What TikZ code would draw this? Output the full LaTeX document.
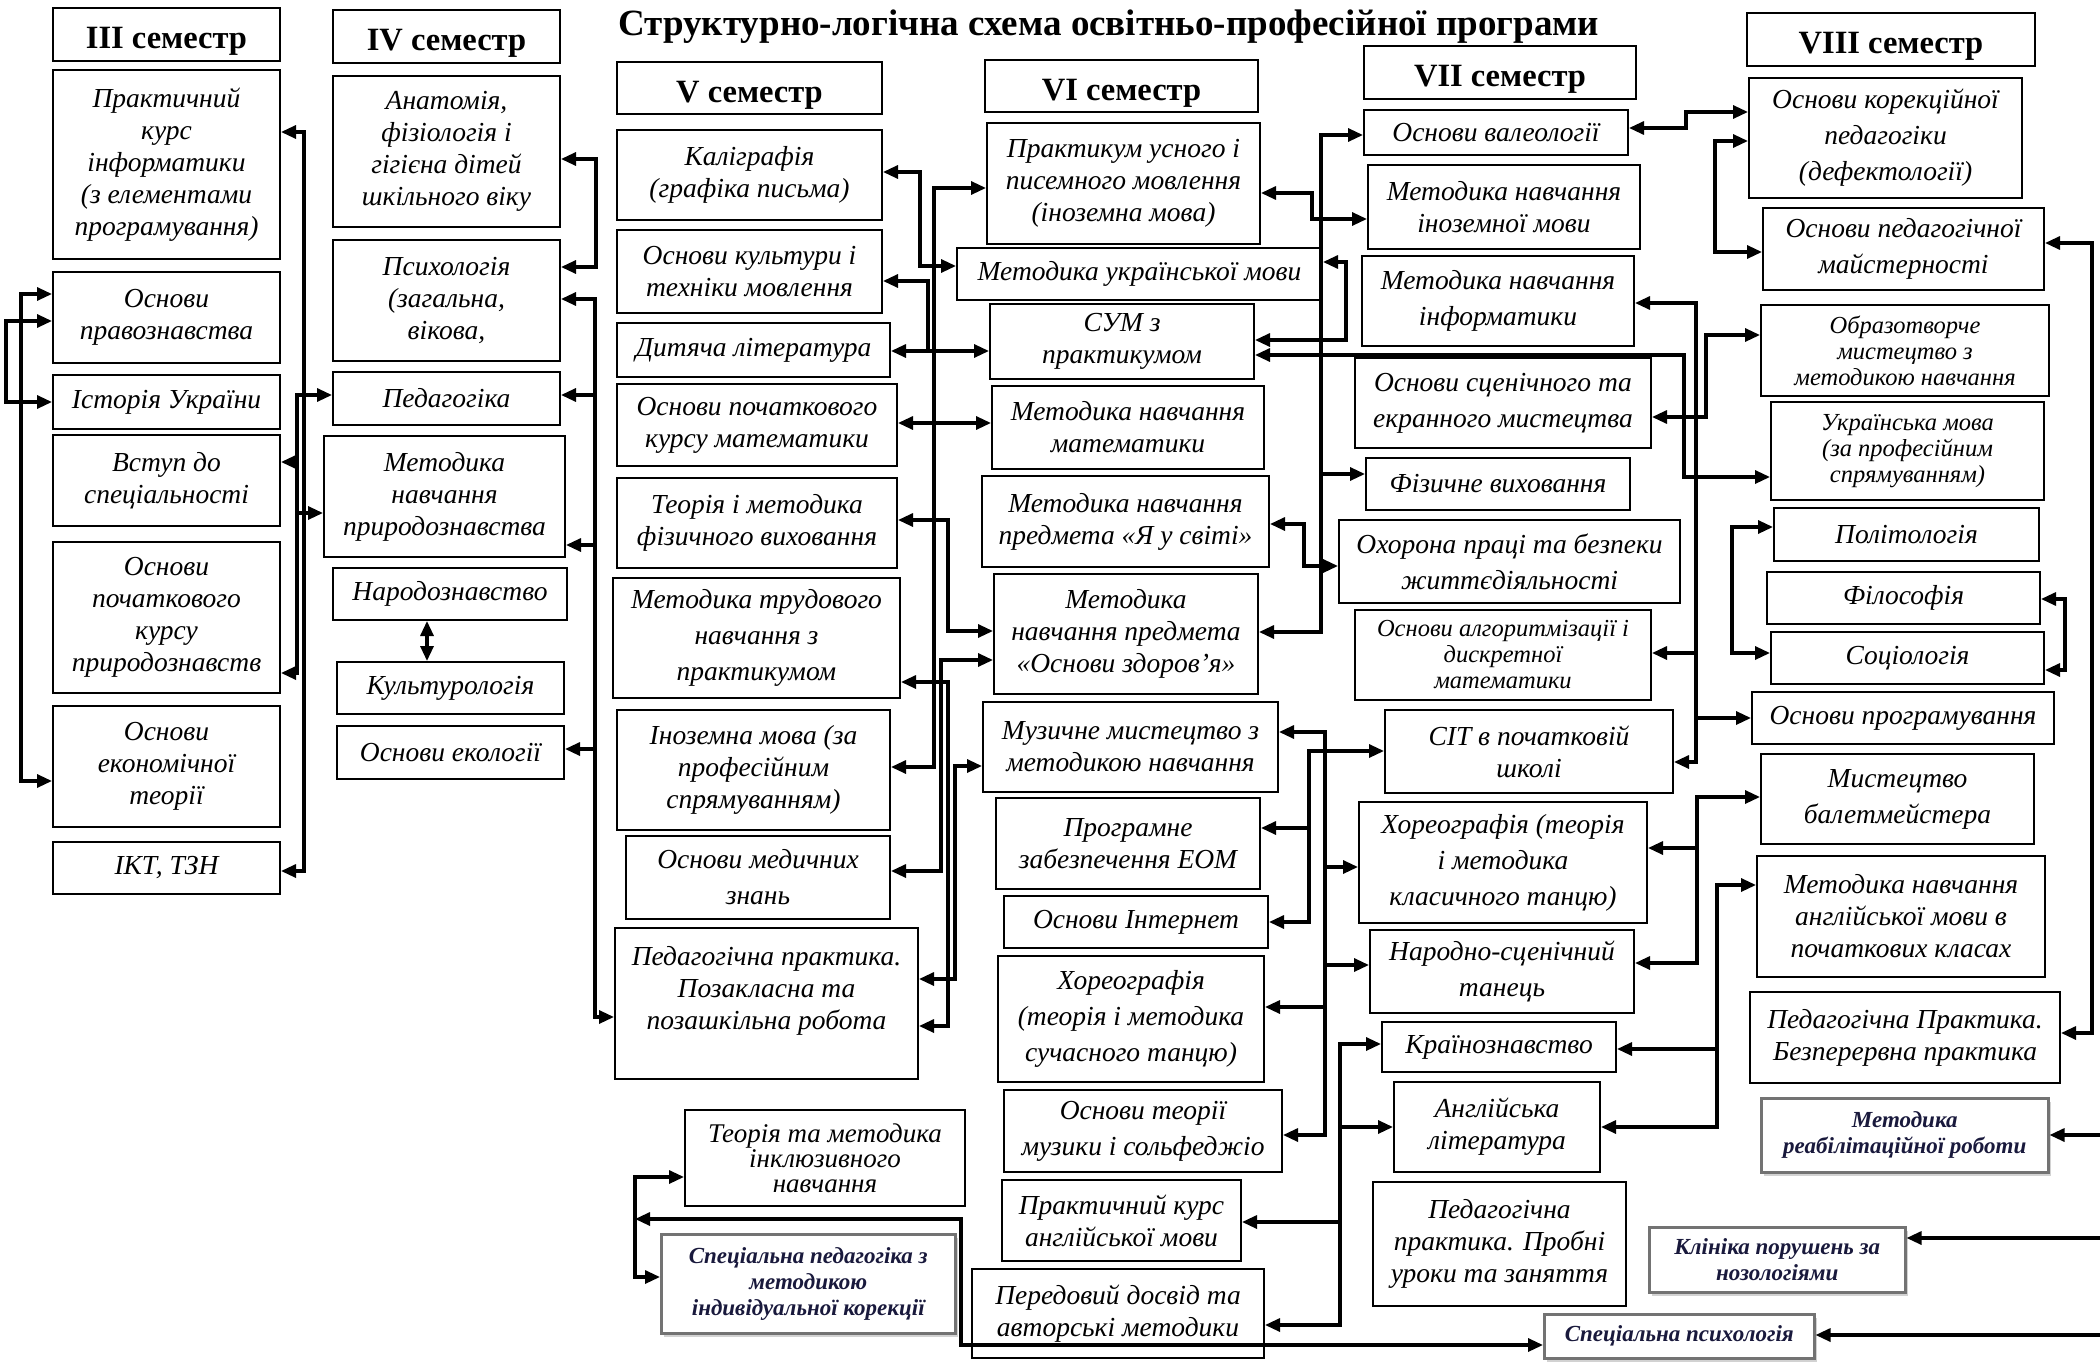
\documentclass[tikz,border=0pt]{standalone}
\usepackage{fontspec}
\setmainfont{Liberation Serif}
\usetikzlibrary{arrows.meta, shadows}
\definecolor{greytxt}{RGB}{25,25,60}

\tikzset{
  subj/.style={draw, line width=2pt, anchor=north west, align=center, inner sep=2pt,
    font=\itshape\fontsize{27.5}{32}\selectfont},
  loose/.style={font=\itshape\fontsize{27.5}{36}\selectfont},
  tight/.style={font=\itshape\fontsize{27}{25}\selectfont},
  subjsmall/.style={subj, font=\itshape\fontsize{24.5}{26}\selectfont},
  subjgrey/.style={subj, draw=black!55, line width=2.5pt, fill=white, text=greytxt,
    font=\bfseries\itshape\fontsize{23}{26}\selectfont,
    drop shadow={shadow xshift=3pt, shadow yshift=-4pt, fill=black!35}},
  sem/.style={draw, line width=2pt, anchor=north west, inner sep=2pt,
    text height=29pt, text depth=0pt,
    font=\bfseries\fontsize{32.5}{34}\selectfont},
  link/.style={line width=3.2pt},
  arr/.style={link, -{Triangle[length=15pt,width=13pt]}},
  dbl/.style={link, {Triangle[length=15pt,width=13pt]}-{Triangle[length=15pt,width=13pt]}},
}

\begin{document}
\begin{tikzpicture}[x=1pt, y=-1pt]
      \fill[white] (0,0) rectangle (2100,1367);
      \useasboundingbox (0,0) rectangle (2100,1367);

      \node[font=\bfseries\fontsize{37}{39}\selectfont, anchor=west] (title) at (615,27) {Структурно-логічна схема освітньо-професійної програми};

      % III
      \node[sem, minimum width=227pt, minimum height=53pt] (sem3) at (52,7) {III семестр};
      \node[subj, minimum width=227pt, minimum height=189pt] (praktinf) at (52,69) {Практичний\\курс\\інформатики\\(з елементами\\програмування)};
      \node[subj, minimum width=227pt, minimum height=91pt] (pravo) at (52,271) {Основи\\правознавства};
      \node[subj, minimum width=227pt, minimum height=54pt] (istor) at (52,374) {Історія України};
      \node[subj, minimum width=227pt, minimum height=91pt] (vstup) at (52,434) {Вступ до\\спеціальності};
      \node[subj, minimum width=227pt, minimum height=151pt] (pryrod) at (52,541) {Основи\\початкового\\курсу\\природознавств};
      \node[subj, minimum width=227pt, minimum height=121pt] (ekon) at (52,705) {Основи\\економічної\\теорії};
      \node[subj, minimum width=227pt, minimum height=52pt] (ikt) at (52,841) {ІКТ, ТЗН};

      % IV
      \node[sem, minimum width=227pt, minimum height=53pt] (sem4) at (332,9) {IV семестр};
      \node[subj, minimum width=227pt, minimum height=151pt] (anat) at (332,75) {Анатомія,\\фізіологія і\\гігієна дітей\\шкільного віку};
      \node[subj, minimum width=227pt, minimum height=121pt] (psyh) at (332,239) {Психологія\\(загальна,\\вікова,};
      \node[subj, minimum width=227pt, minimum height=53pt] (ped) at (332,371) {Педагогіка};
      \node[subj, minimum width=241pt, minimum height=121pt] (metpryr) at (323,435) {Методика\\навчання\\природознавства};
      \node[subj, minimum width=234pt, minimum height=52pt] (narod) at (332,567) {Народознавство};
      \node[subj, minimum width=227pt, minimum height=52pt] (kultur) at (336,661) {Культурологія};
      \node[subj, minimum width=227pt, minimum height=53pt] (ekol) at (336,725) {Основи екології};

      % V
      \node[sem, minimum width=265pt, minimum height=52pt] (sem5) at (616,61) {V семестр};
      \node[subj, minimum width=265pt, minimum height=90pt] (kalig) at (616,129) {Каліграфія\\(графіка письма)};
      \node[subj, minimum width=265pt, minimum height=83pt] (movkult) at (616,229) {Основи культури і\\техніки мовлення};
      \node[subj, minimum width=273pt, minimum height=54pt] (dytlit) at (616,322) {Дитяча література};
      \node[subj, minimum width=280pt, minimum height=82pt] (pochmat) at (616,383) {Основи початкового\\курсу математики};
      \node[subj, minimum width=280pt, minimum height=90pt] (fizteor) at (616,477) {Теорія і методика\\фізичного виховання};
      \node[subj, loose, minimum width=287pt, minimum height=120pt] (trud) at (612,577) {Методика трудового\\навчання з\\практикумом};
      \node[subj, minimum width=273pt, minimum height=120pt] (inozprof) at (616,709) {Іноземна мова (за\\професійним\\спрямуванням)};
      \node[subj, loose, minimum width=264pt, minimum height=83pt] (medzn) at (625,835) {Основи медичних\\знань};
      \node[subj, minimum width=303pt, minimum height=151pt] (pozakl) at (614,927) {Педагогічна практика.\\Позакласна та\\позашкільна робота\\ \mbox{}};
      \node[subj, tight, minimum width=280pt, minimum height=96pt] (inkl) at (684,1109) {Теорія та методика\\інклюзивного\\навчання};
      \node[subjgrey, minimum width=294pt, minimum height=99pt] (specped) at (660,1233) {Спеціальна педагогіка з\\методикою\\індивідуальної корекції};

      % VI
      \node[sem, minimum width=273pt, minimum height=52pt] (sem6) at (984,59) {VI семестр};
      \node[subj, minimum width=273pt, minimum height=121pt] (praktus) at (986,122) {Практикум усного і\\писемного мовлення\\(іноземна мова)};
      \node[subj, minimum width=365pt, minimum height=52pt] (metukr) at (956,247) {Методика української мови};
      \node[subj, minimum width=264pt, minimum height=75pt] (sum) at (989,303) {СУМ з\\практикумом};
      \node[subj, minimum width=272pt, minimum height=83pt] (metmat) at (991,385) {Методика навчання\\математики};
      \node[subj, minimum width=287pt, minimum height=91pt] (yasvit) at (981,475) {Методика навчання\\предмета «Я у світі»};
      \node[subj, minimum width=264pt, minimum height=120pt] (zdorov) at (993,573) {Методика\\навчання предмета\\«Основи здоров’я»};
      \node[subj, minimum width=295pt, minimum height=90pt] (muz) at (982,701) {Музичне мистецтво з\\методикою навчання};
      \node[subj, minimum width=264pt, minimum height=91pt] (prohram) at (995,797) {Програмне\\забезпечення ЕОМ};
      \node[subj, minimum width=264pt, minimum height=52pt] (internet) at (1003,895) {Основи Інтернет};
      \node[subj, loose, minimum width=266pt, minimum height=126pt] (horsuch) at (997,955) {Хореографія\\(теорія і методика\\сучасного танцю)};
      \node[subj, loose, minimum width=278pt, minimum height=82pt] (muzteor) at (1003,1089) {Основи теорії\\музики і сольфеджіо};
      \node[subj, minimum width=239pt, minimum height=81pt] (anglkurs) at (1001,1179) {Практичний курс\\англійської мови};
      \node[subj, minimum width=292pt, minimum height=89pt] (peredov) at (971,1268) {Передовий досвід та\\авторські методики};

      % VII
      \node[sem, minimum width=272pt, minimum height=53pt] (sem7) at (1363,45) {VII семестр};
      \node[subj, minimum width=264pt, minimum height=45pt] (valeo) at (1363,109) {Основи валеології};
      \node[subj, minimum width=272pt, minimum height=84pt] (metinoz) at (1367,164) {Методика навчання\\іноземної мови};
      \node[subj, loose, minimum width=272pt, minimum height=90pt] (metinf) at (1361,255) {Методика навчання\\інформатики};
      \node[subj, loose, minimum width=296pt, minimum height=90pt] (scen) at (1354,357) {Основи сценічного та\\екранного мистецтва};
      \node[subj, minimum width=264pt, minimum height=52pt] (fizvyh) at (1365,457) {Фізичне виховання};
      \node[subj, loose, minimum width=341pt, minimum height=83pt] (ohorona) at (1338,519) {Охорона праці та безпеки\\життєдіяльності};
      \node[subjsmall, minimum width=296pt, minimum height=90pt] (alhor) at (1354,609) {Основи алгоритмізації і\\дискретної\\математики};
      \node[subj, minimum width=288pt, minimum height=83pt] (sit) at (1384,709) {СІТ в початковій\\школі};
      \node[subj, loose, minimum width=288pt, minimum height=121pt] (horklas) at (1358,801) {Хореографія (теорія\\і методика\\класичного танцю)};
      \node[subj, loose, minimum width=264pt, minimum height=83pt] (narscen) at (1369,929) {Народно-сценічний\\танець};
      \node[subj, minimum width=234pt, minimum height=50pt] (krain) at (1381,1021) {Країнознавство};
      \node[subj, minimum width=206pt, minimum height=90pt] (anglit) at (1393,1081) {Англійська\\література};
      \node[subj, minimum width=253pt, minimum height=124pt] (probni) at (1372,1181) {Педагогічна\\практика. Пробні\\уроки та заняття};
      \node[subjgrey, minimum width=270pt, minimum height=44pt] (specpsyh) at (1543,1313) {Спеціальна психологія};

      % VIII
      \node[sem, minimum width=288pt, minimum height=53pt] (sem8) at (1746,12) {VIII семестр};
      \node[subj, loose, minimum width=273pt, minimum height=120pt] (korek) at (1748,77) {Основи корекційної\\педагогіки\\(дефектології)};
      \node[subj, loose, minimum width=281pt, minimum height=82pt] (maist) at (1762,207) {Основи педагогічної\\майстерності};
      \node[subjsmall, minimum width=288pt, minimum height=91pt] (obraz) at (1760,304) {Образотворче\\мистецтво з\\методикою навчання};
      \node[subjsmall, minimum width=273pt, minimum height=98pt] (ukrprof) at (1770,401) {Українська мова\\(за професійним\\спрямуванням)};
      \node[subj, minimum width=265pt, minimum height=53pt] (polit) at (1773,507) {Політологія};
      \node[subj, minimum width=273pt, minimum height=52pt] (filos) at (1766,571) {Філософія};
      \node[subj, minimum width=273pt, minimum height=52pt] (sociol) at (1770,631) {Соціологія};
      \node[subj, minimum width=302pt, minimum height=52pt] (osnprog) at (1751,691) {Основи програмування};
      \node[subj, loose, minimum width=273pt, minimum height=90pt] (balet) at (1760,753) {Мистецтво\\балетмейстера};
      \node[subj, minimum width=288pt, minimum height=121pt] (metangl) at (1756,855) {Методика навчання\\англійської мови в\\початкових класах};
      \node[subj, minimum width=310pt, minimum height=91pt] (bezper) at (1749,991) {Педагогічна Практика.\\Безперервна практика};
      \node[subjgrey, minimum width=287pt, minimum height=74pt] (reabil) at (1760,1097) {Методика\\реабілітаційної роботи};
      \node[subjgrey, minimum width=256pt, minimum height=65pt] (klinika) at (1648,1226) {Клініка порушень за\\нозологіями};

      % III -- IV
      \draw[dbl] (pravo.west |- 0,294) -- (21,294) -- (21,781) -- (ekon.west |- 0,781);
      \draw[dbl] (pravo.west |- 0,321) -- (6,321) -- (6,402) -- (istor.west |- 0,402);
      \draw[dbl] (praktinf.east |- 0,132) -- (304,132) -- (304,871) -- (ikt.east |- 0,871);
      \draw[dbl] (ped.west |- 0,395) -- (297,395) -- (297,673) -- (pryrod.east |- 0,673);
      \coordinate (busIII) at (297,0);
      \draw[arr] (busIII |- 0,462) -- (vstup.east |- 0,462);
      \draw[arr] (busIII |- 0,513) -- (metpryr.west |- 0,513);
      \draw[dbl] (narod.south -| 427,0) -- (kultur.north -| 427,0);

      % IV -- V
      \draw[dbl] (anat.east |- 0,159) -- (596,159) -- (596,267) -- (psyh.east |- 0,267);
      \draw[dbl] (psyh.east |- 0,299) -- (595,299) -- (595,1017) -- (pozakl.west |- 0,1017);
      \coordinate (busIV) at (595,0);
      \draw[arr] (busIV |- 0,395) -- (ped.east |- 0,395);
      \draw[arr] (busIV |- 0,545) -- (metpryr.east |- 0,545);
      \draw[arr] (busIV |- 0,749) -- (ekol.east |- 0,749);

      % V -- VI
      \draw[dbl] (kalig.east |- 0,172) -- (920,172) -- (920,266) -- (metukr.west |- 0,266);
      \draw[dbl] (dytlit.east |- 0,351) -- (sum.west |- 0,351);
      \coordinate (dytjoin) at (928,351);
      \draw[arr] (dytjoin) -- (928,281) -- (movkult.east |- 0,281);
      \draw[dbl] (pochmat.east |- 0,423) -- (metmat.west |- 0,423);
      \draw[dbl] (praktus.west |- 0,188) -- (934,188) -- (934,767) -- (inozprof.east |- 0,767);
      \draw[dbl] (fizteor.east |- 0,520) -- (948,520) -- (948,631) -- (zdorov.west |- 0,631);
      \draw[dbl] (zdorov.west |- 0,660) -- (941,660) -- (941,871) -- (medzn.east |- 0,871);
      \draw[dbl] (trud.east |- 0,682) -- (948,682) -- (948,1026) -- (pozakl.east |- 0,1026);
      \draw[dbl] (muz.west |- 0,766) -- (955,766) -- (955,979) -- (pozakl.east |- 0,979);
      \draw[dbl] (inkl.west |- 0,1177) -- (635,1177) -- (635,1277) -- (specped.west |- 0,1277);
      \coordinate (inkljoin) at (635,1219);
      \draw[dbl] (specpsyh.west |- 0,1345) -- (961,1345) -- (961,1219) -- (inkljoin);

      % VI -- VII
      \draw[dbl] (praktus.east |- 0,193) -- (1312,193) -- (1312,219) -- (metinoz.west |- 0,219);
      \draw[dbl] (valeo.west |- 0,135) -- (1321,135) -- (1321,632) -- (zdorov.east |- 0,632);
      \coordinate (busVI) at (1321,0);
      \draw[arr] (busVI |- 0,474) -- (fizvyh.west |- 0,474);
      \draw[dbl] (yasvit.east |- 0,524) -- (1304,524) -- (1304,566) -- (ohorona.west |- 0,566);
      \draw[dbl] (sum.east |- 0,340) -- (1346,340) -- (1346,262) -- (metukr.east |- 0,262);
      \draw[dbl] (sit.west |- 0,751) -- (1309,751) -- (1309,922) -- (internet.east |- 0,922);
      \coordinate (busSIT) at (1309,0);
      \draw[arr] (busSIT |- 0,828) -- (prohram.east |- 0,828);
      \draw[dbl] (muz.east |- 0,732) -- (1325,732) -- (1325,1135) -- (muzteor.east |- 0,1135);
      \coordinate (busMuz) at (1325,0);
      \draw[arr] (busMuz |- 0,867) -- (horklas.west |- 0,867);
      \draw[arr] (busMuz |- 0,965) -- (narscen.west |- 0,965);
      \draw[arr] (busMuz |- 0,1007) -- (horsuch.east |- 0,1007);
      \draw[dbl] (krain.west |- 0,1044) -- (1340,1044) -- (1340,1325) -- (peredov.east |- 0,1325);
      \coordinate (busKrain) at (1340,0);
      \draw[arr] (busKrain |- 0,1127) -- (anglit.west |- 0,1127);
      \draw[arr] (busKrain |- 0,1222) -- (anglkurs.east |- 0,1222);

      % VII -- VIII
      \draw[dbl] (sum.east |- 0,355) -- (1684,355) -- (1684,477) -- (ukrprof.west |- 0,477);
      \draw[dbl] (metinf.east |- 0,303) -- (1696,303) -- (1696,762) -- (sit.east |- 0,762);
      \coordinate (busInf) at (1696,0);
      \draw[arr] (busInf |- 0,653) -- (alhor.east |- 0,653);
      \draw[arr] (busInf |- 0,718) -- (osnprog.west |- 0,718);
      \draw[dbl] (scen.east |- 0,417) -- (1706,417) -- (1706,335) -- (obraz.west |- 0,335);
      \draw[dbl] (valeo.east |- 0,128) -- (1686,128) -- (1686,112) -- (korek.west |- 0,112);
      \draw[dbl] (korek.west |- 0,141) -- (1715,141) -- (1715,252) -- (maist.west |- 0,252);
      \draw[dbl] (maist.east |- 0,243) -- (2092,243) -- (2092,1033) -- (bezper.east |- 0,1033);
      \draw[dbl] (polit.west |- 0,527) -- (1732,527) -- (1732,653) -- (sociol.west |- 0,653);
      \draw[dbl] (filos.east |- 0,599) -- (2065,599) -- (2065,670) -- (sociol.east |- 0,670);
      \draw[dbl] (balet.west |- 0,797) -- (1697,797) -- (1697,963) -- (narscen.east |- 0,963);
      \coordinate (busBal) at (1697,0);
      \draw[arr] (busBal |- 0,848) -- (horklas.east |- 0,848);
      \draw[dbl] (metangl.west |- 0,885) -- (1717,885) -- (1717,1127) -- (anglit.east |- 0,1127);
      \coordinate (busAngl) at (1717,0);
      \draw[arr] (busAngl |- 0,1049) -- (krain.east |- 0,1049);

      \coordinate (edgeA) at (2100,1135);
      \coordinate (edgeB) at (2100,1238);
      \coordinate (edgeC) at (2100,1335);
      \draw[arr] (edgeA) -- (reabil.east |- 0,1135);
      \draw[arr] (edgeB) -- (klinika.east |- 0,1238);
      \draw[arr] (edgeC) -- (specpsyh.east |- 0,1335);
    \end{tikzpicture}
\end{document}
